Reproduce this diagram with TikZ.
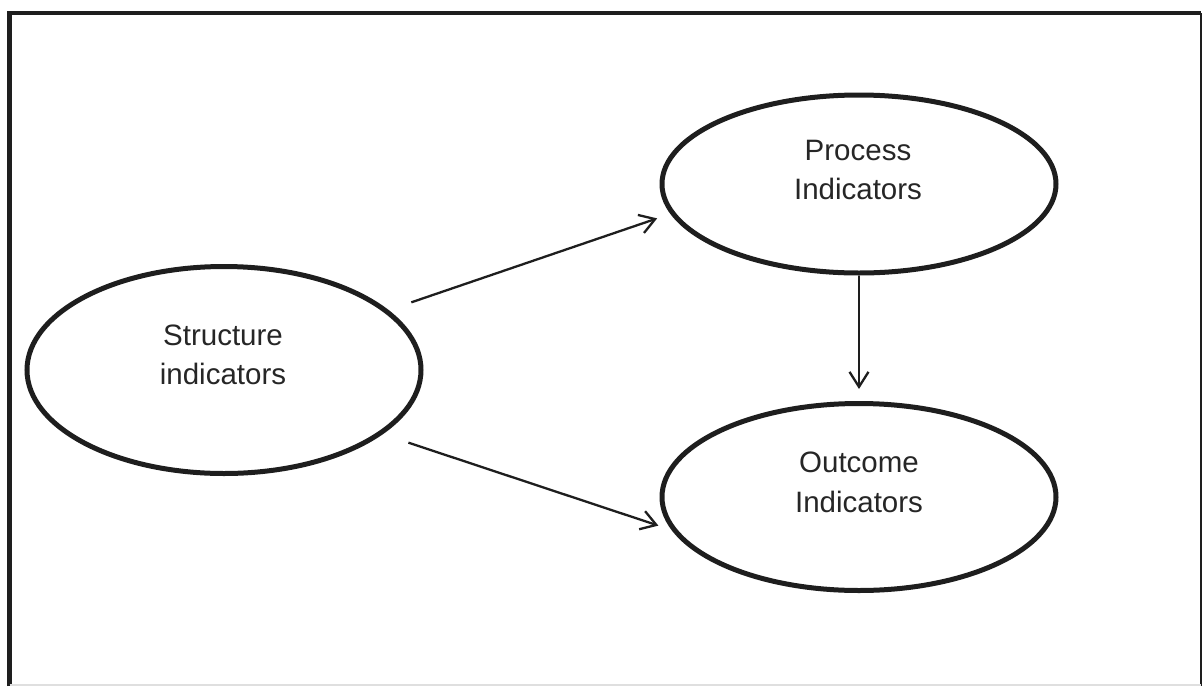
\documentclass[tikz,border=0pt]{standalone}
\usepackage{fontspec}
\setmainfont{Liberation Sans}
\usetikzlibrary{arrows.meta,shapes.geometric}
\definecolor{ink}{HTML}{1E1E1E}
\definecolor{txt}{HTML}{262626}
\begin{document}
\begin{tikzpicture}[x=1pt,y=-1pt,
  oval/.style={ellipse, draw=ink, line width=5pt, inner sep=0pt, minimum width=394pt},
  lbl/.style={text=txt, align=center, inner sep=0pt, font=\fontsize{29.5}{39.5}\selectfont},
  conn/.style={draw=ink, line width=2.3pt, -{Straight Barb[length=15pt,width=19pt]}},
  frameline/.style={draw=ink, line width=4.5pt}]
\useasboundingbox (0,0) rectangle (1203,686);
% frame
\draw[frameline] (9.5,686) -- (9.5,13) -- (1201,13);
\draw[ink, line width=2.5pt] (1201,13) -- (1201,686);
\draw[gray!25, line width=1.5pt] (9.5,685) -- (1201,685);
% ellipses
\node[oval, minimum height=207pt] (s) at (224,370) {};
\node[oval, minimum height=178pt] (p) at (859,184) {};
\node[oval, minimum height=187pt] (o) at (859,497) {};
% labels
\node[lbl] (st) at (223,355) {Structure\\indicators};
\node[lbl] (pt) at (858,170) {Process\\Indicators};
\node[lbl] (ot) at (859,482.5) {Outcome\\Indicators};
% connectors
\draw[conn, shorten <=24pt, shorten >=14pt] (s.20) -- (p.189);
\draw[conn, shorten <=27pt, shorten >=14pt] (s.338) -- (o.190);
\draw[conn, shorten >=12pt] (p.south) -- (o.north);
\end{tikzpicture}
\end{document}
